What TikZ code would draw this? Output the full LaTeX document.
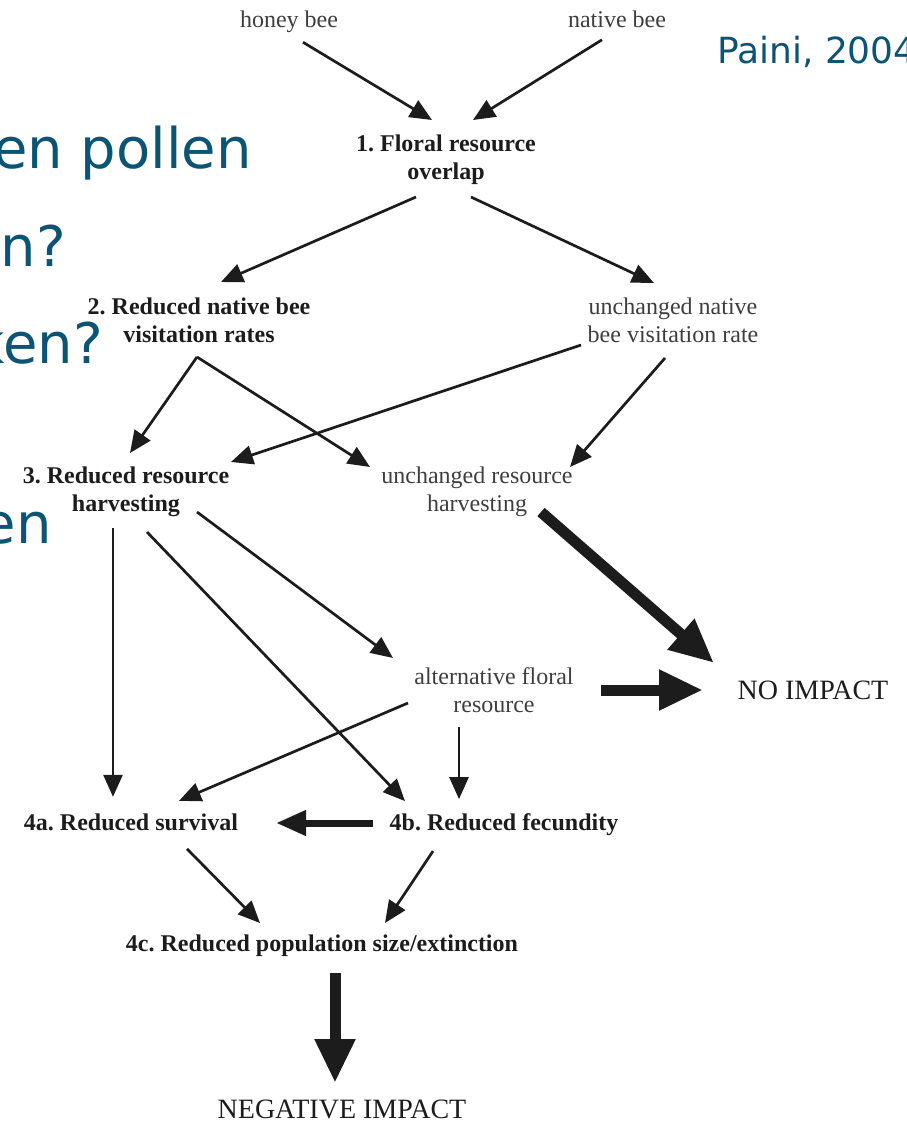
\documentclass[tikz,border=0pt]{standalone}
\usepackage{fontspec}
\setmainfont{Liberation Serif}
\newfontfamily\slidefont{DejaVu Sans}
\usetikzlibrary{arrows.meta}
\definecolor{slideblue}{RGB}{12,84,116}
\definecolor{ink}{RGB}{28,28,28}
\frenchspacing

\begin{document}
\begin{tikzpicture}[x = 1pt, y = -1pt,
        lbl/.style = {text = ink!85, font = \fontsize{24}{28}\selectfont, align = center, inner sep = 0pt},
        bold/.style = {lbl, text = ink, font = \fontsize{24}{28}\selectfont\bfseries},
        big/.style = {lbl, text = ink, font = \fontsize{28}{32}\selectfont},
        slide/.style = {text = slideblue, font = \slidefont\fontsize{56}{60}\selectfont, anchor = base east, inner sep = 0pt},
        arr/.style = {draw = ink, line width = 2.7pt, -{Triangle[length = 22pt, width = 19pt]}},
        midarr/.style = {draw = ink, line width = 7pt, -{Triangle[length = 30pt, width = 24pt]}},
        fatarr/.style = {draw = ink, line width = 11pt, -{Triangle[length = 44pt, width = 38pt]}}]

    \clip (0, 0) rectangle (907, 1122);

    % slide text behind the figure
    \node[slide] (s1)at(252, 168) {en pollen};
    \node[slide] (s2)at(66, 266) {n?};
    \node[slide] (s3)at(103, 363) {ken?};
    \node[slide] (s4)at(52, 543) {en};
    \node[slide, anchor = base west, font = \slidefont\fontsize{36}{40}\selectfont] (src)at(717, 63) {Paini, 2004};

    \node[lbl, anchor = base] (hb)at(289, 27) {honey bee};
    \node[lbl, anchor = base] (nb)at(617, 27) {native bee};
    \node[bold] (fl)at(446, 160) {1. Floral resource\\overlap};
    \node[bold] (rn)at(199, 320) {2. Reduced native bee\\visitation rates};
    \node[lbl] (un)at(673, 320) {unchanged native\\bee visitation rate};
    \node[bold] (rr)at(126, 492) {3. Reduced resource\\harvesting};
    \node[lbl] (uh)at(477, 492) {unchanged resource\\harvesting};
    \node[lbl] (af)at(494, 690) {alternative floral\\resource};
    \node[big] (ni)at(813, 690) {NO IMPACT};
    \node[bold, anchor = base] (sa)at(131, 830) {4a. Reduced survival};
    \node[bold, anchor = base] (fe)at(504, 830) {4b. Reduced fecundity};
    \node[bold] (ps)at(322, 946) {4c. Reduced population size/extinction};
    \node[big] (neg)at(342, 1109) {NEGATIVE IMPACT};

    \draw[arr] ([shift = {(14, 21)}]hb.center) -- ([shift = {(-14, -40)}]fl.center);
    \draw[arr] ([shift = {(-15, 21)}]nb.center) -- ([shift = {(27, -40)}]fl.center);
    \draw[arr] ([shift = {(-30, 37)}]fl.center) -- ([shift = {(22, -38)}]rn.center);
    \draw[arr] ([shift = {(25, 37)}]fl.center) -- ([shift = {(-19, -37)}]un.center);
    \draw[arr] ([shift = {(-2, 37)}]rn.center) -- ([shift = {(4, -39)}]rr.center);
    \draw[arr] ([shift = {(-2, 37)}]rn.center) -- ([shift = {(-107, -25)}]uh.center);
    \draw[arr] ([shift = {(-92, 25)}]un.center) -- ([shift = {(105, -30)}]rr.center);
    \draw[arr] ([shift = {(-8, 38)}]un.center) -- ([shift = {(93, -25)}]uh.center);

    \draw[arr] ([shift = {(-13, 36)}]rr.center) -- ([shift = {(-18, -25)}]sa.center);
    \draw[arr] ([shift = {(21, 40)}]rr.center) -- ([shift = {(-99, -23)}]fe.center);
    \draw[arr] ([shift = {(71, 20)}]rr.center) -- ([shift = {(-101, -32)}]af.center);
    \draw[arr] ([shift = {(-86, 13)}]af.center) -- ([shift = {(48, -21)}]sa.center);
    \draw[arr] ([shift = {(-35, 37)}]af.center) -- ([shift = {(-45, -25)}]fe.center);
    \draw[midarr] ([shift = {(-131, -7)}]fe.base) -- ([shift = {(145, -7)}]sa.base);
    \draw[arr] ([shift = {(56, 27)}]sa.center) -- ([shift = {(-62, -23)}]ps.center);
    \draw[arr] ([shift = {(-71, 27)}]fe.center) -- ([shift = {(63, -23)}]ps.center);

    \draw[fatarr] ([shift = {(64, 20)}]uh.center) -- ([shift = {(-99, -27)}]ni.center);
    \draw[fatarr] ([shift = {(107, 0)}]af.center) -- ([shift = {(-110, 0)}]ni.center);
    \draw[fatarr] ([shift = {(13, 27)}]ps.center) -- ([shift = {(-7, -26)}]neg.center);
\end{tikzpicture}
\end{document}
